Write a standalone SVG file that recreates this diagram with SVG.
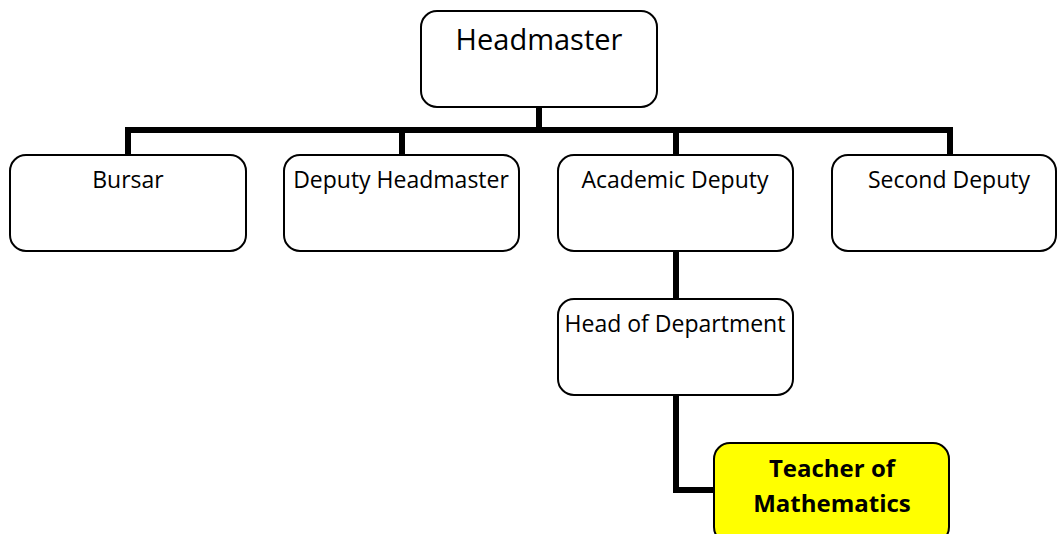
<svg xmlns="http://www.w3.org/2000/svg" width="1057" height="534" viewBox="0 0 1057 534">
<style>
.box{fill:#fff;stroke:#000;stroke-width:2}
.hl{fill:#ffff00;stroke:#000;stroke-width:2}
.t{font-family:"Open Sans","Liberation Sans",sans-serif;font-size:23px;fill:#000;text-anchor:middle}
.big{font-size:29px}
.b{font-weight:bold;font-size:24px}
.c{fill:none;stroke:#000;stroke-width:6}
</style>
<rect width="1057" height="534" fill="#fff"/>
<g id="connectors">
<path class="c" d="M539 107V130"/>
<path class="c" d="M125 130H953"/>
<path class="c" d="M128 130V155M402 130V155M676 130V155M950 130V155"/>
<path class="c" d="M676 251V299"/>
<path class="c" d="M676 395V490H714"/>
</g>
<g id="headmaster"><rect class="box" x="421" y="11" width="236" height="96" rx="16"/><text class="t big" x="539" y="50">Headmaster</text></g>
<g id="bursar"><rect class="box" x="10" y="155" width="236" height="96" rx="16"/><text class="t" x="128" y="188">Bursar</text></g>
<g id="deputy"><rect class="box" x="284" y="155" width="235" height="96" rx="16"/><text class="t" x="401" y="188">Deputy Headmaster</text></g>
<g id="academic"><rect class="box" x="558" y="155" width="235" height="96" rx="16"/><text class="t" x="675" y="188">Academic Deputy</text></g>
<g id="second"><rect class="box" x="832" y="155" width="224" height="96" rx="16"/><text class="t" x="949" y="188">Second Deputy</text></g>
<g id="hod"><rect class="box" x="558" y="299" width="235" height="96" rx="16"/><text class="t" x="675" y="332">Head of Department</text></g>
<g id="teacher"><rect class="hl" x="714" y="443" width="235" height="100" rx="16"/><text class="t b" x="832" y="477">Teacher of</text><text class="t b" x="832" y="512">Mathematics</text></g>
</svg>
